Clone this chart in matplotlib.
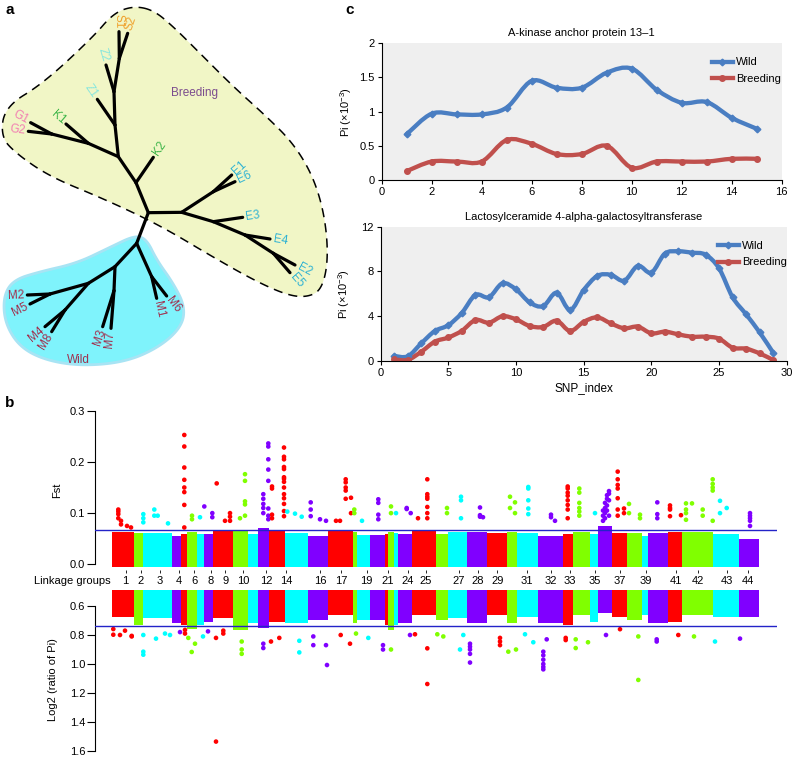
import numpy as np
import matplotlib
matplotlib.use('Agg')
import matplotlib.pyplot as plt
from matplotlib.path import Path
from matplotlib.patches import PathPatch, Polygon
from matplotlib.lines import Line2D

plt.rcParams['font.family'] = ['Liberation Sans', 'DejaVu Sans']
plt.rcParams['mathtext.fontset'] = 'custom'
plt.rcParams['mathtext.rm'] = 'Liberation Sans'
plt.rcParams['mathtext.it'] = 'Liberation Sans:italic'

# ---------------- panel c data ----------------
snp1 = list(range(1, 16))
wild1 = [0.67, 0.97, 0.96, 0.96, 1.06, 1.45, 1.35, 1.35, 1.57, 1.63, 1.32, 1.13, 1.14, 0.91, 0.75]
breed1 = [0.13, 0.27, 0.27, 0.27, 0.585, 0.53, 0.38, 0.38, 0.50, 0.18, 0.27, 0.27, 0.27, 0.31, 0.31]

snp2 = list(range(1, 30))
wild2 = [0.45, 0.42, 1.58, 2.68, 3.2, 4.3, 5.9, 5.7, 6.94, 6.4, 5.24, 4.9, 6.1, 4.56, 6.34,
         7.6, 7.7, 7.18, 8.5, 7.9, 9.6, 9.8, 9.68, 9.5, 8.28, 5.7, 4.17, 2.56, 0.74]
breed2 = [0.15, 0.1, 0.83, 1.73, 2.1, 2.7, 3.66, 3.42, 4.0, 3.72, 3.13, 3.04, 3.6, 2.68, 3.5,
          3.9, 3.36, 2.92, 3.07, 2.47, 2.62, 2.38, 2.17, 2.17, 2.0, 1.19, 1.1, 0.68, 0.09]

# ---------------- panel b data ----------------
# linkage group blocks along the genome axis (start, colour code)
seg_start = [111.7, 134.3, 142.7, 172.3, 181, 186.7, 196.7, 204.3, 213.3, 233.3, 248.3, 258.3, 269,
             285, 308.3, 328.3, 352.5, 357.3, 370, 385, 388.3, 394, 398, 412.3, 436, 448.3, 466.7,
             486.7, 506.7, 516.7, 537.5, 563.3, 573.3, 590, 597.5, 611.7, 626.7, 641.5, 648.3,
             668.3, 681.7, 713.3, 739]
seg_end = seg_start[1:] + [759]
seg_col = ['r', 'g', 'c', 'p', 'r', 'g', 'c', 'p', 'r', 'g', 'c', 'p', 'r',
           'c', 'p', 'r', 'g', 'c', 'p', 'r', 'g', 'c', 'p', 'r', 'g', 'c', 'p',
           'r', 'g', 'c', 'p', 'r', 'g', 'c', 'p', 'r', 'g', 'c', 'p', 'r', 'g', 'c', 'p']
# top of the dense Fst cloud and bottom of the dense log2 cloud per block
fst_bulk = [0.064, 0.062, 0.062, 0.056, 0.06, 0.064, 0.06, 0.06, 0.065, 0.066, 0.06, 0.07, 0.066,
            0.062, 0.056, 0.066, 0.064, 0.058, 0.058, 0.06, 0.064, 0.062, 0.06, 0.068, 0.06, 0.064,
            0.064, 0.062, 0.064, 0.062, 0.055, 0.06, 0.064, 0.06, 0.075, 0.062, 0.062, 0.056,
            0.062, 0.064, 0.064, 0.06, 0.05]
log2_bulk = [0.673, 0.731, 0.68, 0.72, 0.73, 0.76, 0.73, 0.71, 0.685, 0.765, 0.72, 0.754, 0.708,
             0.72, 0.696, 0.665, 0.72, 0.696, 0.696, 0.73, 0.765, 0.73, 0.72, 0.665, 0.696, 0.685,
             0.72, 0.665, 0.72, 0.673, 0.72, 0.73, 0.662, 0.708, 0.65, 0.673, 0.696, 0.662, 0.72,
             0.708, 0.662, 0.673, 0.673]

lg_names = ['1', '2', '3', '4', '6', '8', '9', '10', '12', '14', '16', '17', '19', '21', '24', '25',
            '27', '28', '29', '31', '32', '33', '35', '37', '39', '41', '42', '43', '44']
lg_pos = [125.7, 140.7, 160, 178.5, 194, 210.7, 225.3, 243.3, 266, 286.3, 320.3, 341, 366.5, 387.5,
          407.5, 425.5, 459, 477.5, 497.3, 527, 551, 569.5, 595, 620, 645.5, 675.5, 698, 727, 748.3]

# scattered SNPs above the Fst threshold region
fst_x = [118.3, 118.3, 118.3, 118.3, 121, 121, 127, 131, 143.3, 143.3, 143.3, 154.3, 154.3, 157.7, 168,
         184.3, 184.3, 184.3, 184.3, 184.3, 184.3, 184.3, 184.3, 192, 192, 200, 204.3, 212.3, 212.3,
         216.7, 225, 230, 230, 230, 240, 245, 245, 245, 245, 245,
         263.3, 263.3, 263.3, 263.3, 263.3, 268.3, 268.3, 268.3, 268.3, 268.3, 268.3, 268.3, 268.3,
         272, 272, 272, 272, 284, 284, 284, 284, 284, 284, 284, 284, 284, 284, 284, 284, 284, 284,
         287.3, 295, 301.7, 310.7, 310.7, 310.7, 320, 326, 336, 340, 345.7, 345.7, 345.7, 345.7, 345.7,
         351, 351, 354.3, 354.3, 362, 378.3, 378.3, 378.3, 378.3, 391, 391, 396, 406.7, 406.7, 410.7,
         418, 427.3, 427.3, 427.3, 427.3, 427.3, 427.3, 427.3,
         447, 447, 461, 461, 461, 480, 480, 480, 483, 510, 510, 515, 515,
         528.3, 528.3, 528.3, 528.3, 528.3, 551, 551, 555,
         567.7, 567.7, 567.7, 567.7, 567.7, 567.7, 567.7, 567.7, 579.3, 579.3, 579.3, 579.3, 579.3, 579.3,
         595, 603, 603, 603, 605, 605, 605, 605, 607, 607, 607, 607, 609, 609, 609, 609,
         617.7, 617.7, 617.7, 617.7, 617.7, 617.7, 617.7, 624, 624, 629, 629, 640, 640,
         657.3, 657.3, 657.3, 670, 670, 670, 670, 681, 686, 686, 686, 686, 692, 702.7, 702.7,
         712.7, 712.7, 712.7, 712.7, 712.7, 720, 720, 726.7, 750, 750, 750, 750, 750]
fst_y = [0.107, 0.103, 0.098, 0.09, 0.085, 0.078, 0.075, 0.072, 0.098, 0.09, 0.082, 0.107, 0.095, 0.095, 0.08,
         0.2525, 0.23, 0.189, 0.165, 0.150, 0.141, 0.116, 0.072, 0.095, 0.088, 0.092, 0.113, 0.1, 0.092,
         0.158, 0.085, 0.1, 0.093, 0.085, 0.09, 0.176, 0.163, 0.123, 0.117, 0.095,
         0.137, 0.128, 0.118, 0.11, 0.1, 0.236, 0.23, 0.205, 0.185, 0.163, 0.109, 0.095, 0.088,
         0.152, 0.148, 0.097, 0.09, 0.228, 0.21, 0.205, 0.19, 0.186, 0.17, 0.167, 0.161, 0.15, 0.137,
         0.129, 0.118, 0.104, 0.094,
         0.103, 0.099, 0.093, 0.121, 0.107, 0.094, 0.088, 0.085, 0.085, 0.085, 0.166, 0.16, 0.15, 0.144, 0.128,
         0.13, 0.1, 0.107, 0.1, 0.085, 0.127, 0.12, 0.097, 0.088, 0.113, 0.1, 0.1, 0.11, 0.108, 0.1,
         0.09, 0.166, 0.137, 0.132, 0.128, 0.112, 0.1, 0.09,
         0.11, 0.1, 0.132, 0.125, 0.09, 0.111, 0.096, 0.093, 0.092, 0.132, 0.11, 0.121, 0.1,
         0.151, 0.148, 0.125, 0.109, 0.098, 0.097, 0.092, 0.085,
         0.152, 0.148, 0.14, 0.134, 0.125, 0.116, 0.107, 0.09, 0.148, 0.14, 0.12, 0.11, 0.103, 0.095,
         0.1, 0.105, 0.095, 0.085, 0.12, 0.11, 0.1, 0.09, 0.135, 0.128, 0.115, 0.105, 0.143, 0.138, 0.125, 0.095,
         0.181, 0.166, 0.155, 0.148, 0.129, 0.107, 0.095, 0.109, 0.1, 0.118, 0.1, 0.097, 0.09,
         0.121, 0.098, 0.09, 0.115, 0.11, 0.107, 0.094, 0.096, 0.119, 0.107, 0.1, 0.087, 0.119, 0.107, 0.095,
         0.166, 0.157, 0.15, 0.144, 0.085, 0.124, 0.1, 0.11, 0.1, 0.095, 0.09, 0.085, 0.075]

# scattered SNPs below the log2 threshold region
log2_x = [113.3, 113.3, 120, 125, 131.7, 131.7, 143.3, 143.3, 143.3, 156, 165, 170, 180, 185, 185,
          188.3, 191.7, 195, 203, 208, 216, 216, 223.3, 223.3, 241.7, 241.7, 241.7, 263.3, 263.3,
          271, 279.3, 299.3, 299.3, 313.3, 313.3, 326, 327, 340.7, 350, 356, 368.3, 383, 383, 391,
          410, 415, 427.3, 427.3, 437.3, 443.3, 460, 463.3, 470, 470, 470, 470, 470, 500, 500, 500,
          508.3, 516, 525, 533.3, 543.3, 543.3, 543.3, 543.3, 543.3, 543.3, 546.7, 565.7, 565.7,
          575.7, 575.7, 588, 606, 620, 638.3, 638.3, 656.7, 656.7, 678.3, 694, 715, 740]
log2_y = [0.759, 0.798, 0.8, 0.77, 0.806, 0.81, 0.915, 0.936, 0.8, 0.825, 0.79, 0.8, 0.78, 0.765, 0.79,
          0.82, 0.917, 0.86, 0.81, 0.775, 0.82, 1.535, 0.79, 0.77, 0.845, 0.9, 0.93, 0.86, 0.89,
          0.845, 0.82, 0.84, 0.92, 0.81, 0.87, 0.87, 1.007, 0.8, 0.86, 0.79, 0.82, 0.87, 0.9, 0.9,
          0.8, 0.795, 0.892, 1.138, 0.795, 0.81, 0.9, 0.8, 0.86, 0.88, 0.9, 0.93, 0.99, 0.82, 0.845, 0.87,
          0.915, 0.9, 0.795, 0.85, 0.915, 0.94, 0.97, 1.0, 1.02, 1.037, 0.83, 0.82, 0.835,
          0.83, 0.89, 0.85, 0.8, 0.76, 0.81, 1.11, 0.83, 0.845, 0.8, 0.81, 0.845, 0.825]

fst_cut = 0.068
log2_cut = 0.738

palette = {'r': '#FF0000', 'g': '#80FF00', 'c': '#00FFFF', 'p': '#8000FF'}
blue = '#4A7EC2'
red = '#C0504D'


def smooth_path(x, y):
    # smoothed line through the points (Catmull-Rom as bezier curves)
    p = np.column_stack([x, y]).astype(float)
    ext = np.vstack([p[0], p, p[-1]])
    verts = [p[0]]
    codes = [Path.MOVETO]
    for i in range(len(p) - 1):
        p0, p1, p2, p3 = ext[i], ext[i + 1], ext[i + 2], ext[i + 3]
        verts += [p1 + (p2 - p0) / 6, p2 - (p3 - p1) / 6, p2]
        codes += [Path.CURVE4] * 3
    return Path(verts, codes)


def chaikin(pts, n=4):
    pts = np.array(pts, float)
    for _ in range(n):
        b = np.roll(pts, -1, axis=0)
        out = np.empty((2 * len(pts), 2))
        out[0::2] = 0.75 * pts + 0.25 * b
        out[1::2] = 0.25 * pts + 0.75 * b
        pts = out
    return pts


def seg_colour(xs):
    idx = np.searchsorted(seg_start, xs, side='right') - 1
    return [palette[seg_col[i]] for i in idx]


fig = plt.figure(figsize=(7.93, 7.57), dpi=100)

# ---------------- panel a: tree ----------------
axa = fig.add_axes([0, 1 - 390 / 757, 340 / 793, 390 / 757])
axa.set_xlim(0, 1020)
axa.set_ylim(1170, 0)
axa.axis('off')

breed_hull = [(400, 18), (460, 30), (520, 80), (600, 160), (700, 260), (800, 350), (880, 430),
              (940, 530), (975, 650), (985, 780), (965, 870), (920, 892), (860, 885), (760, 840),
              (620, 760), (520, 700), (430, 652), (300, 592), (150, 530), (50, 462), (2, 410),
              (15, 320), (130, 250), (280, 110), (340, 40)]
wild_hull = [(405, 706), (440, 718), (470, 780), (520, 850), (555, 920), (545, 980), (480, 1040),
             (380, 1085), (250, 1098), (140, 1082), (60, 1042), (15, 970), (10, 890), (40, 840),
             (120, 815), (230, 790), (330, 742)]
axa.add_patch(Polygon(chaikin(breed_hull), closed=True, facecolor='#F1F6C6', edgecolor='black',
                      lw=1.1, ls=(0, (6, 4))))
axa.add_patch(Polygon(chaikin(wild_hull), closed=True, facecolor='#7FF3FC', edgecolor='#A8E4F4', lw=2))

nodes = {'root': (445, 638), 'nK2': (408, 548), 'n1': (355, 470), 'nGK': (265, 430), 'nG': (155, 402),
         'nZ': (345, 375), 'nZS': (342, 275), 'nS': (358, 175), 'nE': (545, 637), 'nE16': (640, 575),
         'nE3': (640, 665), 'nE4': (735, 705), 'nE25': (820, 760), 'nW': (410, 730), 'nM16': (455, 830),
         'nMa': (345, 800), 'nM37': (342, 872), 'nMb': (265, 850), 'nM25': (150, 882), 'nM48': (195, 930)}
tips = {'S1': (357, 95), 'S2': (383, 100), 'Z2': (318, 195), 'Z1': (292, 298), 'K1': (198, 372),
        'G1': (92, 368), 'G2': (85, 394), 'K2': (460, 472), 'E1': (695, 525), 'E6': (705, 545),
        'E3': (728, 652), 'E4': (810, 717), 'E2': (885, 795), 'E5': (870, 818), 'M1': (470, 895),
        'M6': (500, 888), 'M3': (308, 980), 'M7': (333, 985), 'M2': (82, 885), 'M5': (90, 912),
        'M4': (135, 980), 'M8': (155, 995)}
edges = [('root', 'nK2'), ('nK2', 'K2'), ('nK2', 'n1'), ('n1', 'nGK'), ('nGK', 'K1'), ('nGK', 'nG'),
         ('nG', 'G1'), ('nG', 'G2'), ('n1', 'nZ'), ('nZ', 'Z1'), ('nZ', 'nZS'), ('nZS', 'Z2'),
         ('nZS', 'nS'), ('nS', 'S1'), ('nS', 'S2'), ('root', 'nE'), ('nE', 'nE16'), ('nE16', 'E1'),
         ('nE16', 'E6'), ('nE', 'nE3'), ('nE3', 'E3'), ('nE3', 'nE4'), ('nE4', 'E4'), ('nE4', 'nE25'),
         ('nE25', 'E2'), ('nE25', 'E5'), ('root', 'nW'), ('nW', 'nM16'), ('nM16', 'M1'), ('nM16', 'M6'),
         ('nW', 'nMa'), ('nMa', 'nM37'), ('nM37', 'M3'), ('nM37', 'M7'), ('nMa', 'nMb'),
         ('nMb', 'nM25'), ('nM25', 'M2'), ('nM25', 'M5'), ('nMb', 'nM48'), ('nM48', 'M4'), ('nM48', 'M8')]
tip_col = {'S': '#EFA22E', 'Z': '#86E6DE', 'K': '#3DB548', 'G': '#F27FB2', 'E': '#2FB2D3', 'M': '#A2304E'}
allpts = dict(nodes)
allpts.update(tips)
for a, b in edges:
    (x0, y0), (x1, y1) = allpts[a], allpts[b]
    axa.plot([x0, x1], [y0, y1], color='black', lw=2.3, solid_capstyle='round', zorder=3)
    if b in tips:
        dx, dy = x1 - x0, y0 - y1
        d = np.hypot(dx, dy)
        ang = np.degrees(np.arctan2(dy, dx))
        tx, ty = x1 + 10 * dx / d, y1 - 10 * dy / d
        if -90 < ang <= 90:
            rot, ha = ang, 'left'
        else:
            rot, ha = ang - 180, 'right'
        axa.text(tx, ty, b, rotation=rot, ha=ha, va='center', rotation_mode='anchor',
                 color=tip_col[b[0]], fontsize=8.5)
axa.text(585, 280, 'Breeding', color='#7B4C8E', fontsize=8.5, ha='center', va='center')
axa.text(235, 1080, 'Wild', color='#A2304E', fontsize=8.5, ha='center', va='center')

# ---------------- panel c: Pi curves ----------------
def draw_pi(rect, x, wild, breed, title, xlim, ylim, xt, yt, ylabels, leg_anchor):
    ax = fig.add_axes(rect)
    ax.set_facecolor('#EFEFEF')
    for y, c, m, ms in [(wild, blue, 'D', 3.4), (breed, red, 'o', 4)]:
        ax.add_patch(PathPatch(smooth_path(x, y), fill=False, edgecolor=c, lw=3.1, capstyle='round'))
        ax.plot(x, y, ls='none', marker=m, ms=ms, color=c)
    ax.set_xlim(*xlim)
    ax.set_ylim(*ylim)
    ax.set_xticks(xt)
    ax.set_yticks(yt)
    ax.set_yticklabels(ylabels)
    ax.spines['top'].set_visible(False)
    ax.spines['right'].set_visible(False)
    ax.tick_params(direction='out', length=3, labelsize=8, pad=2)
    ax.set_title(title, fontsize=8, pad=5)
    ax.set_ylabel('Pi (×10$^{-3}$)', fontsize=8)
    ax.yaxis.set_label_coords(-0.07, 0.5)
    handles = [Line2D([], [], color=blue, lw=3.1, marker='D', ms=3.4),
               Line2D([], [], color=red, lw=3.1, marker='o', ms=4)]
    ax.legend(handles, ['Wild', 'Breeding'], loc='upper left', bbox_to_anchor=leg_anchor,
              frameon=False, fontsize=8, handlelength=1.9, handletextpad=0.3, labelspacing=0.6)
    return ax


draw_pi([381.7 / 793, 1 - 180 / 757, 400 / 793, 136.7 / 757], snp1, wild1, breed1,
        'A-kinase anchor protein 13–1', (0, 16), (0, 2), range(0, 17, 2), [0, 0.5, 1, 1.5, 2],
        ['0', '0.5', '1', '1.5', '2'], (0.8, 0.97))
axc2 = draw_pi([380.7 / 793, 1 - 361 / 757, 406 / 793, 134.3 / 757], snp2, wild2, breed2,
               'Lactosylceramide 4-alpha-galactosyltransferase', (0, 30), (0, 12), range(0, 31, 5),
               [0, 4, 8, 12], ['0', '4', '8', '12'], (0.805, 0.97))
axc2.set_xlabel('SNP_index', fontsize=8.5, labelpad=3)

# ---------------- panel b: Fst and log2 Pi ratio ----------------
xlo, xhi = 95, 777
axf = fig.add_axes([95 / 793, 1 - 570 / 757, 682 / 793, 165 / 757])
widths = np.array(seg_end) - np.array(seg_start)
cols = [palette[c] for c in seg_col]
axf.bar(seg_start, np.array(fst_bulk) + 0.006, width=widths, bottom=-0.006, align='edge', color=cols, lw=0)
axf.scatter(fst_x, fst_y, s=11, c=seg_colour(fst_x), lw=0, zorder=3)
axf.axhline(fst_cut, color='#2323C8', lw=1, zorder=4)
axf.set_xlim(xlo, xhi)
axf.set_ylim(-0.011, 0.311)
for s in ['top', 'right', 'bottom']:
    axf.spines[s].set_visible(False)
axf.spines['left'].set_bounds(0, 0.3)
axf.set_yticks([0, 0.1, 0.2, 0.3])
axf.set_yticklabels(['0.0', '0.1', '0.2', '0.3'])
axf.tick_params(axis='y', length=6, labelsize=8, pad=1)
axf.set_xticks(lg_pos)
axf.set_xticklabels(lg_names)
axf.tick_params(axis='x', length=2, width=0.6, labelsize=8, pad=2)
axf.set_ylabel('Fst', fontsize=8)
axf.yaxis.set_label_coords(-0.048, 0.485)
fig.text(111 / 793, 1 - 581 / 757, 'Linkage groups', ha='right', va='center', fontsize=8)

axl = fig.add_axes([95 / 793, 1 - 753 / 757, 682 / 793, 168 / 757])
axl.bar(seg_start, np.array(log2_bulk) - 0.488, width=widths, bottom=0.488, align='edge', color=cols, lw=0)
axl.scatter(log2_x, log2_y, s=11, c=seg_colour(log2_x), lw=0, zorder=3)
axl.axhline(log2_cut, color='#2323C8', lw=1, zorder=4)
axl.set_xlim(xlo, xhi)
axl.set_ylim(1.6138, 0.4552)
for s in ['top', 'right', 'bottom']:
    axl.spines[s].set_visible(False)
axl.spines['left'].set_bounds(0.6, 1.6)
axl.set_yticks([0.6, 0.8, 1.0, 1.2, 1.4, 1.6])
axl.set_yticklabels(['0.6', '0.8', '1.0', '1.2', '1.4', '1.6'])
axl.tick_params(axis='y', length=6, labelsize=8, pad=1)
axl.set_xticks([])
axl.set_ylabel('Log2 (ratio of Pi)', fontsize=8)
axl.yaxis.set_label_coords(-0.054, 0.44)

# panel letters
fig.text(5 / 793, 1 - 10 / 757, 'a', fontsize=11, fontweight='bold', va='center')
fig.text(345 / 793, 1 - 10 / 757, 'c', fontsize=11, fontweight='bold', va='center')
fig.text(5 / 793, 1 - 403 / 757, 'b', fontsize=11, fontweight='bold', va='center')

fig.savefig('out.png', dpi=100)
